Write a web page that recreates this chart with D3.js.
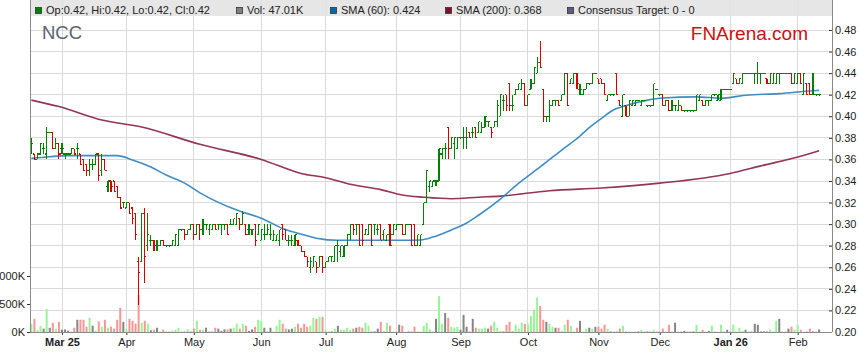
<!DOCTYPE html>
<html>
<head>
<meta charset="utf-8">
<script src="https://cdn.jsdelivr.net/npm/d3@7"></script>
<style>
body { margin: 0; background: #fff; }
svg { display: block; font-family: "Liberation Sans", Arial, sans-serif; }
</style>
</head>
<body>
<svg id="chart" width="859" height="363"></svg>
<script>
// daily bars, one per weekday, index 0 = 17 Feb 2025
var opens = [
  .365,.365,.36,.365,.37,.365,.385,.385,.37,.375,
  .37,.365,.365,.365,.37,.37,.365,.36,.355,.35,
  .355,.355,.365,.35,.36,.335,.34,.34,.335,.325,
  .32,.315,.32,.315,.31,.265,.265,.31,.28,.285,
  .285,.28,.28,.285,.28,.28,.28,.28,.28,.295,
  .295,.29,.295,.30,.29,.30,.295,.30,.295,.295,
  .30,.30,.30,.30,.30,.30,.30,.30,.305,.30,
  .30,.295,.295,.30,.29,.285,.29,.29,.29,.285,
  .285,.285,.30,.295,.285,.285,.28,.285,.28,.275,
  .27,.26,.26,.265,.26,.27,.26,.265,.27,.265,
  .28,.275,.27,.28,.29,.30,.30,.30,.30,.29,
  .29,.30,.30,.295,.30,.29,.285,.30,.29,.295,
  .30,.30,.29,.30,.30,.30,.28,.28,.30,.32,
  .335,.335,.34,.34,.365,.37,.39,.37,.375,.37,
  .38,.38,.38,.385,.385,.39,.385,.385,.39,.395,
  .39,.39,.395,.40,.415,.42,.43,.41,.42,.425,
  .425,.43,.41,.425,.43,.44,.45,.425,.40,.40,
  .41,.415,.415,.415,.42,.44,.43,.43,.44,.425,
  .42,.425,.43,.43,.44,.435,.435,.43,.415,.42,
  .42,.44,.415,.40,.41,.40,.41,.41,.415,.41,
  .415,.41,.41,.41,.425,.42,.42,.41,.415,.405,
  .41,.405,.41,.405,.405,.405,.405,.405,.415,.415,
  .41,.415,.415,.42,.415,.415,.425,.425,.425,.43,
  .435,.43,.43,.44,.44,.44,.44,.44,.44,.44,
  .435,.43,.43,.43,.44,.44,.44,.44,.44,.43,
  .43,.44,.42,.43,.43,.42,.42,.42
];
var highs = [
  .38,.365,.365,.375,.375,.39,.385,.385,.38,.375,
  .375,.365,.365,.37,.37,.375,.365,.36,.355,.36,
  .36,.365,.365,.365,.36,.34,.34,.34,.335,.325,
  .32,.32,.32,.315,.31,.27,.31,.315,.31,.29,
  .285,.285,.285,.285,.28,.28,.285,.29,.295,.295,
  .295,.295,.30,.30,.30,.30,.305,.30,.30,.30,
  .30,.30,.30,.30,.30,.305,.305,.31,.305,.312,
  .30,.30,.295,.30,.30,.295,.30,.30,.30,.295,
  .29,.295,.30,.295,.29,.29,.29,.285,.28,.275,
  .27,.27,.27,.265,.27,.27,.265,.27,.27,.28,
  .285,.28,.28,.29,.30,.30,.30,.30,.30,.295,
  .30,.30,.30,.30,.30,.295,.29,.30,.30,.30,
  .30,.30,.30,.30,.30,.30,.29,.29,.32,.35,
  .34,.34,.34,.37,.37,.375,.39,.38,.38,.38,
  .38,.39,.39,.385,.39,.39,.395,.395,.40,.395,
  .39,.395,.415,.42,.42,.42,.43,.42,.425,.43,
  .435,.43,.42,.435,.445,.455,.47,.425,.40,.415,
  .415,.415,.415,.42,.44,.44,.435,.44,.44,.43,
  .425,.43,.43,.44,.44,.435,.435,.43,.42,.42,
  .42,.44,.415,.42,.41,.415,.415,.415,.415,.415,
  .415,.41,.41,.43,.425,.42,.42,.415,.415,.415,
  .41,.415,.41,.405,.405,.405,.405,.42,.42,.415,
  .415,.415,.42,.42,.42,.425,.425,.425,.425,.44,
  .435,.435,.44,.44,.44,.44,.44,.45,.44,.44,
  .435,.44,.44,.44,.44,.44,.44,.44,.44,.44,
  .44,.44,.44,.43,.43,.44,.42,.42
];
var lows = [
  .365,.36,.36,.365,.365,.36,.385,.37,.37,.36,
  .365,.36,.365,.365,.365,.36,.355,.35,.345,.345,
  .35,.355,.34,.345,.35,.33,.33,.33,.325,.315,
  .315,.315,.31,.30,.285,.225,.265,.245,.275,.28,
  .275,.275,.28,.28,.28,.28,.28,.28,.28,.295,
  .285,.29,.295,.285,.29,.285,.29,.295,.29,.295,
  .295,.295,.29,.295,.29,.30,.30,.30,.295,.30,
  .29,.29,.29,.28,.29,.285,.285,.29,.285,.285,
  .285,.28,.285,.285,.28,.28,.28,.28,.275,.27,
  .26,.255,.26,.255,.26,.255,.26,.265,.265,.265,
  .265,.27,.27,.28,.285,.29,.29,.28,.28,.29,
  .29,.28,.29,.29,.285,.285,.285,.28,.29,.295,
  .30,.29,.29,.30,.28,.28,.28,.28,.30,.32,
  .33,.335,.335,.34,.36,.36,.36,.37,.36,.37,
  .38,.37,.37,.38,.38,.38,.385,.385,.39,.39,
  .38,.39,.39,.40,.405,.405,.405,.405,.42,.425,
  .425,.41,.41,.425,.43,.44,.445,.395,.395,.395,
  .41,.41,.41,.415,.42,.41,.43,.43,.425,.42,
  .42,.425,.43,.43,.44,.43,.43,.42,.415,.42,
  .42,.42,.41,.40,.40,.40,.41,.41,.415,.41,
  .415,.41,.41,.41,.425,.42,.41,.41,.405,.405,
  .405,.405,.405,.405,.405,.405,.405,.405,.415,.41,
  .41,.41,.415,.42,.415,.415,.425,.425,.425,.43,
  .43,.43,.43,.44,.44,.44,.43,.43,.43,.44,
  .43,.43,.43,.43,.43,.44,.44,.44,.43,.43,
  .43,.43,.42,.42,.42,.42,.42,.42
];
var closes = [
  .375,.36,.365,.375,.37,.385,.385,.37,.375,.365,
  .37,.365,.365,.37,.365,.37,.355,.35,.35,.355,
  .355,.365,.345,.36,.35,.34,.335,.33,.325,.315,
  .32,.32,.31,.305,.29,.255,.31,.27,.29,.285,
  .28,.28,.285,.28,.28,.28,.285,.29,.295,.295,
  .29,.295,.30,.29,.30,.295,.30,.30,.30,.30,
  .295,.30,.30,.30,.29,.30,.305,.31,.30,.31,
  .29,.295,.295,.285,.30,.295,.29,.295,.29,.29,
  .29,.295,.29,.285,.285,.285,.29,.28,.275,.27,
  .265,.265,.27,.26,.27,.26,.265,.27,.27,.28,
  .28,.28,.28,.29,.30,.295,.30,.28,.285,.295,
  .30,.28,.30,.295,.285,.295,.29,.28,.30,.30,
  .30,.29,.30,.30,.28,.28,.29,.29,.32,.35,
  .34,.34,.34,.37,.37,.37,.37,.38,.38,.38,
  .38,.38,.38,.38,.385,.38,.395,.39,.40,.395,
  .385,.395,.41,.42,.415,.41,.41,.41,.425,.43,
  .43,.41,.42,.43,.445,.45,.445,.40,.40,.41,
  .415,.415,.41,.42,.44,.41,.435,.44,.43,.425,
  .425,.43,.43,.44,.44,.43,.43,.42,.42,.42,
  .42,.42,.41,.42,.40,.415,.415,.415,.415,.415,
  .415,.41,.41,.43,.425,.42,.41,.415,.405,.41,
  .41,.41,.405,.405,.405,.405,.405,.42,.42,.41,
  .415,.415,.42,.42,.42,.425,.425,.425,.425,.44,
  .43,.435,.44,.44,.44,.44,.44,.44,.44,.44,
  .43,.44,.44,.44,.44,.44,.44,.44,.43,.44,
  .44,.43,.44,.42,.42,.42,.42,.42
];
// volume in thousands
var volumes = [
  147,235,40,110,60,410,76,165,60,180,
  40,47,25,10,76,218,218,218,94,253,
  112,23,188,94,218,76,94,60,218,430,
  182,60,235,200,147,660,165,200,147,30,
  41,76,10,41,5,5,24,40,76,5,
  10,47,20,60,200,40,40,76,15,15,
  76,60,20,47,47,60,76,147,60,147,
  110,20,47,94,218,200,76,20,76,10,
  112,218,147,60,47,60,94,147,76,147,
  94,112,253,235,270,270,40,10,10,60,
  110,40,40,76,40,60,76,94,76,165,
  112,10,10,60,182,20,165,112,10,5,
  130,112,5,10,10,94,10,10,112,165,
  47,10,235,640,147,340,253,94,76,94,
  40,306,94,10,235,76,60,60,76,60,
  112,182,76,20,10,130,182,10,130,60,
  165,147,147,288,394,617,465,218,182,147,
  94,76,76,20,130,218,112,10,76,200,
  5,60,76,60,94,94,60,130,60,10,
  5,10,60,112,10,10,10,5,10,40,
  5,10,5,40,5,5,60,10,130,10,
  165,10,10,20,5,5,10,130,10,40,
  5,20,112,5,5,130,5,40,5,130,
  5,76,20,40,5,5,147,130,10,10,
  10,40,10,200,235,5,5,60,94,40,
  130,40,5,10,60,10,5,47
];

// moving averages at sample bars
var sma60Idx = [0,6,12,28,33,39,44,50,55,67,75,82,89,93,100,110,121,127,131,137,142,146,153,159,166,173,179,181,186,190,193,201,206,217,225,233,244,255,257];
var sma60Val = [.361,.3625,.3635,.3635,.3595,.353,.3455,.338,.329,.313,.3055,.296,.29,.287,.285,.285,.285,.2853,.288,.2946,.301,.3085,.3233,.338,.353,.3687,.3817,.387,.398,.406,.409,.415,.417,.418,.4167,.4195,.421,.4237,.424];
var sma200Idx = [0,9,23,36,55,75,88,96,104,114,121,128,137,146,153,169,186,205,228,238,251,257];
var sma200Val = [.415,.409,.3966,.390,.374,.36,.347,.343,.337,.332,.327,.325,.3236,.325,.326,.331,.3335,.338,.347,.354,.363,.368];

var monthIdx = [10,31,53,75,96,119,140,162,185,205,228,250];
var monthLabels = ['Mar 25','Apr','May','Jun','Jul','Aug','Sep','Oct','Nov','Dec','Jan 26','Feb'];
var priceTicks = [0.20,0.22,0.24,0.26,0.28,0.30,0.32,0.34,0.36,0.38,0.40,0.42,0.44,0.46,0.48];
var volTicks = [0, 500, 1000];

var legendItems = [
  {label: 'Op:0.42, Hi:0.42, Lo:0.42, Cl:0.42', color: '#008000', x: 35},
  {label: 'Vol: 47.01K', color: '#808080', x: 236},
  {label: 'SMA (60): 0.424', color: '#0a64a8', x: 330},
  {label: 'SMA (200): 0.368', color: '#80102c', x: 445},
  {label: 'Consensus Target: 0 - 0', color: '#5c5c82', x: 567}
];

var svg = d3.select('#chart');
var left = 30, right = 832, bottom = 332;

var x = d3.scaleLinear().domain([-0.44, 261.2]).range([left, right]);
var y = d3.scaleLinear().domain([0.20, 0.48]).range([bottom, 30]);
var yVol = d3.scaleLinear().domain([0, 500]).range([bottom, 304]);

// grid
var grid = svg.append('g').attr('shape-rendering', 'crispEdges');
grid.selectAll('.hg').data(priceTicks).enter().append('line')
  .attr('x1', left).attr('x2', right)
  .attr('y1', function(d) { return y(d); }).attr('y2', function(d) { return y(d); })
  .attr('stroke', '#dadada');
grid.selectAll('.vg').data(monthIdx).enter().append('line')
  .attr('x1', function(d) { return x(d); }).attr('x2', function(d) { return x(d); })
  .attr('y1', 0).attr('y2', bottom)
  .attr('stroke', '#dadada');

// legend strip
svg.append('rect').attr('x', left).attr('y', 0).attr('width', right - left).attr('height', 16)
  .attr('fill', '#e2e2e2').attr('opacity', 0.85);
var leg = svg.append('g');
legendItems.forEach(function(it) {
  leg.append('rect').attr('x', it.x + 0.5).attr('y', 7.5).attr('width', 6).attr('height', 6)
    .attr('fill', it.color).attr('stroke', '#333').attr('stroke-width', 0.8);
  leg.append('text').attr('x', it.x + 11).attr('y', 13.5).text(it.label)
    .style('font-size', '11px').attr('fill', '#222');
});

svg.append('text').attr('x', 42).attr('y', 39).text('NCC')
  .style('font-size', '18.5px').attr('fill', '#5b6472');
svg.append('text').attr('x', 808).attr('y', 40).attr('text-anchor', 'end').text('FNArena.com')
  .style('font-size', '19px').attr('fill', '#cc1010');

// volume
var idx = d3.range(opens.length);
function volColor(i) {
  if (closes[i] > opens[i]) return '#97f597';
  if (closes[i] < opens[i]) return '#f79696';
  return '#858585';
}
svg.append('g').selectAll('rect').data(idx).enter().append('rect')
  .attr('x', function(i) { return x(i) - 1; })
  .attr('width', 2)
  .attr('y', function(i) { return yVol(volumes[i]); })
  .attr('height', function(i) { return bottom - yVol(volumes[i]); })
  .attr('fill', volColor);

// moving averages
var line = d3.line().curve(d3.curveMonotoneX)
  .x(function(d) { return x(d[0]); })
  .y(function(d) { return y(d[1]); });
svg.append('path').datum(d3.zip(sma200Idx, sma200Val)).attr('d', line)
  .attr('fill', 'none').attr('stroke', '#8a1f44').attr('stroke-width', 1.6).attr('stroke-opacity', 0.9);
svg.append('path').datum(d3.zip(sma60Idx, sma60Val)).attr('d', line)
  .attr('fill', 'none').attr('stroke', '#2a7fc0').attr('stroke-width', 1.6).attr('stroke-opacity', 0.9);

// OHLC bars
var t = 1.6;
svg.append('g').attr('shape-rendering', 'crispEdges').selectAll('path').data(idx).enter().append('path')
  .attr('d', function(i) {
    var cx = x(i);
    var hy = y(highs[i]), ly = y(lows[i]);
    if (ly - hy < 1) ly = hy + 1;
    return 'M' + cx + ',' + hy + 'V' + ly +
      'M' + (cx - t) + ',' + y(opens[i]) + 'H' + cx +
      'M' + cx + ',' + y(closes[i]) + 'H' + (cx + t);
  })
  .attr('fill', 'none')
  .attr('stroke', function(i) { return closes[i] >= opens[i] ? '#008000' : '#d40000'; })
  .attr('stroke-width', 1.1);

// axes
var axisColor = '#8a8a8a';
var yAxis = svg.append('g').attr('transform', 'translate(' + right + ',0)')
  .call(d3.axisRight(y).tickValues(priceTicks).tickFormat(d3.format('.2f')).tickSizeInner(-3).tickSizeOuter(0).tickPadding(3));
yAxis.select('.domain').remove();
yAxis.selectAll('line').attr('stroke', '#333');
yAxis.selectAll('text').style('font-size', '11px').attr('fill', '#222').style('font-family', '"Liberation Sans", Arial, sans-serif');

var vAxis = svg.append('g').attr('transform', 'translate(' + left + ',0)')
  .call(d3.axisLeft(yVol).tickValues(volTicks).tickFormat(function(d) { return d + 'K'; }).tickSize(3).tickPadding(2));
vAxis.select('.domain').remove();
vAxis.selectAll('line').attr('stroke', '#333');
vAxis.selectAll('text').style('font-size', '11px').attr('fill', '#222').style('font-family', '"Liberation Sans", Arial, sans-serif');

var xAxis = svg.append('g').attr('transform', 'translate(0,' + bottom + ')')
  .call(d3.axisBottom(x).tickValues(monthIdx).tickFormat(function(d, i) { return monthLabels[i]; }).tickSize(3).tickPadding(3));
xAxis.select('.domain').remove();
xAxis.selectAll('line').attr('stroke', '#333');
xAxis.selectAll('text').style('font-size', '11px').attr('fill', '#222')
  .style('font-family', '"Liberation Sans", Arial, sans-serif')
  .style('font-weight', function(d, i) { return /\d/.test(monthLabels[i]) ? 'bold' : 'normal'; });

var frame = svg.append('g').attr('shape-rendering', 'crispEdges').attr('stroke', axisColor);
frame.append('line').attr('x1', left).attr('x2', left).attr('y1', 0).attr('y2', bottom);
frame.append('line').attr('x1', right).attr('x2', right).attr('y1', 0).attr('y2', bottom);
frame.append('line').attr('x1', left).attr('x2', right).attr('y1', bottom).attr('y2', bottom);
</script>
</body>
</html>
